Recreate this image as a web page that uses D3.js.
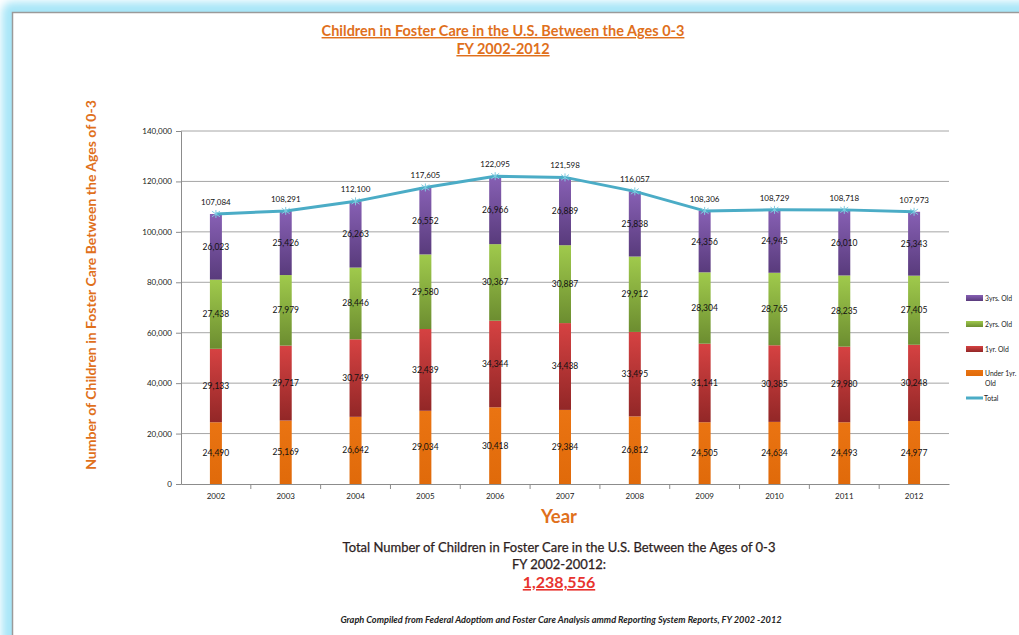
<!DOCTYPE html>
<html>
<head>
<meta charset="utf-8">
<script src="https://cdn.jsdelivr.net/npm/d3@7"></script>
<style>
  html, body { margin: 0; padding: 0; background: #fff; }
  svg { display: block; }
</style>
</head>
<body>
<svg id="chart" width="1019" height="635"></svg>
<script>
// Children in foster care aged 0-3, by age, FY 2002-2012
const years = ["2002","2003","2004","2005","2006","2007","2008","2009","2010","2011","2012"];
const under1 = [24490, 25169, 26642, 29034, 30418, 29384, 26812, 24505, 24634, 24493, 24977];
const age1   = [29133, 29717, 30749, 32439, 34344, 34438, 33495, 31141, 30385, 29980, 30248];
const age2   = [27438, 27979, 28446, 29580, 30367, 30887, 29912, 28304, 28765, 28235, 27405];
const age3   = [26023, 25426, 26263, 26552, 26966, 26889, 25838, 24356, 24945, 26010, 25343];
const totals = [107084, 108291, 112100, 117605, 122095, 121598, 116057, 108306, 108729, 108718, 107973];
const yTicks = [0, 20000, 40000, 60000, 80000, 100000, 120000, 140000];
const seriesNames = ["Under 1yr. Old", "1yr. Old", "2yrs. Old", "3yrs. Old"];
const grandTotal = 1238556;

const svg = d3.select("#chart");
const W = 1019, H = 635;
const fmt = d3.format(",");

// ---- window frame with soft blue glow ----
const defs = svg.append("defs");
const glow = defs.append("filter").attr("id", "glow")
  .attr("x", "-10%").attr("y", "-10%").attr("width", "120%").attr("height", "120%");
glow.append("feGaussianBlur").attr("stdDeviation", 4);
svg.append("rect").attr("x", 2).attr("y", 2).attr("width", W + 40).attr("height", H + 40)
  .attr("rx", 10).attr("fill", "#a8e6f8").attr("filter", "url(#glow)");
svg.append("rect").attr("x", 12.5).attr("y", 12.5).attr("width", W + 20).attr("height", H + 20)
  .attr("fill", "#fff").attr("stroke", "#9a9a9a").attr("stroke-width", 1.5);

// ---- gradients for the stacked segments ----
const palette = [
  { id: "gU1", top: "#ea7412", bot: "#e06a0a" },
  { id: "gA1", top: "#d64242", bot: "#922727" },
  { id: "gA2", top: "#a0ca4c", bot: "#6c8d30" },
  { id: "gA3", top: "#8760b4", bot: "#593b7c" }
];
palette.forEach(p => {
  const g = defs.append("linearGradient").attr("id", p.id)
    .attr("x1", 0).attr("y1", 0).attr("x2", 0).attr("y2", 1);
  g.append("stop").attr("offset", "0%").attr("stop-color", p.top);
  g.append("stop").attr("offset", "100%").attr("stop-color", p.bot);
});

// ---- scales ----
const plot = { left: 181, right: 949, top: 131, bottom: 484 };
const x = d3.scaleBand().domain(years).range([plot.left, plot.right]);
const y = d3.scaleLinear().domain([0, 140000]).range([plot.bottom, plot.top]);

const font = "Lato, 'Open Sans', sans-serif";

// ---- gridlines ----
svg.append("g").selectAll("line").data(yTicks.slice(1)).join("line")
  .attr("x1", plot.left).attr("x2", plot.right)
  .attr("y1", d => y(d)).attr("y2", d => y(d))
  .attr("stroke", "#a6a6a6").attr("stroke-width", 1);

// ---- axes ----
const yAxis = svg.append("g").attr("transform", `translate(${plot.left},0)`)
  .call(d3.axisLeft(y).tickValues(yTicks).tickFormat(fmt).tickSize(5).tickPadding(4));
const xAxis = svg.append("g").attr("transform", `translate(0,${plot.bottom})`)
  .call(d3.axisBottom(x).tickSize(0).tickPadding(9));
[yAxis, xAxis].forEach(a => {
  a.select(".domain").attr("stroke", "#8c8c8c");
  a.selectAll(".tick line").attr("stroke", "#8c8c8c");
  a.selectAll("text").attr("font-family", font).attr("font-size", 8).attr("fill", "#222");
});
// x tick marks between categories
svg.append("g").selectAll("line").data(years.slice(1)).join("line")
  .attr("x1", d => x(d)).attr("x2", d => x(d))
  .attr("y1", plot.bottom).attr("y2", plot.bottom + 5)
  .attr("stroke", "#8c8c8c");

// ---- stacked bars ----
const rows = years.map((yr, i) => ({ year: yr, u1: under1[i], a1: age1[i], a2: age2[i], a3: age3[i] }));
const stack = d3.stack().keys(["u1", "a1", "a2", "a3"])(rows);
const barW = 12;

const layers = svg.append("g").selectAll("g").data(stack).join("g")
  .attr("fill", (d, i) => `url(#${palette[i].id})`);
layers.selectAll("rect").data(d => d).join("rect")
  .attr("x", d => x(d.data.year) + x.bandwidth() / 2 - barW / 2)
  .attr("width", barW)
  .attr("y", d => y(d[1]))
  .attr("height", d => y(d[0]) - y(d[1]));

// segment labels
const segLabels = svg.append("g").attr("font-family", font).attr("font-size", 8.5)
  .attr("fill", "#111").attr("text-anchor", "middle");
stack.forEach(layer => {
  segLabels.selectAll(null).data(layer).join("text")
    .attr("x", d => x(d.data.year) + x.bandwidth() / 2)
    .attr("y", d => y((d[0] + d[1]) / 2) + 3)
    .text(d => fmt(d[1] - d[0]));
});

// ---- total line ----
const cx = (d, i) => x(years[i]) + x.bandwidth() / 2;
svg.append("path").datum(totals)
  .attr("fill", "none").attr("stroke", "#4bacc6").attr("stroke-width", 3)
  .attr("stroke-linejoin", "round")
  .attr("d", d3.line().x(cx).y(d => y(d)));

// star markers
const marks = svg.append("g").attr("stroke", "#7fcbe0").attr("stroke-width", 1);
totals.forEach((t, i) => {
  const px = cx(t, i), py = y(t), r = 4;
  marks.append("line").attr("x1", px - r).attr("y1", py - r * 0.7).attr("x2", px + r).attr("y2", py + r * 0.7);
  marks.append("line").attr("x1", px - r).attr("y1", py + r * 0.7).attr("x2", px + r).attr("y2", py - r * 0.7);
  marks.append("line").attr("x1", px).attr("y1", py - r).attr("x2", px).attr("y2", py + r);
});

// total labels
svg.append("g").attr("font-family", font).attr("font-size", 8).attr("fill", "#111")
  .attr("text-anchor", "middle")
  .selectAll("text").data(totals).join("text")
  .attr("x", cx).attr("y", d => y(d) - 9)
  .text(d => fmt(d));

// ---- legend ----
const legendItems = [
  { label: ["3yrs. Old"], fill: "url(#gA3)", y: 298 },
  { label: ["2yrs. Old"], fill: "url(#gA2)", y: 324 },
  { label: ["1yr. Old"], fill: "url(#gA1)", y: 349 },
  { label: ["Under 1yr.", "Old"], fill: "url(#gU1)", y: 373 }
];
const leg = svg.append("g").attr("font-family", font).attr("font-size", 6.8).attr("fill", "#222");
legendItems.forEach(it => {
  leg.append("rect").attr("x", 966).attr("y", it.y - 3).attr("width", 17).attr("height", 6).attr("fill", it.fill);
  it.label.forEach((l, j) => {
    leg.append("text").attr("x", 985).attr("y", it.y + 2.5 + j * 10).text(l);
  });
});
leg.append("line").attr("x1", 966).attr("x2", 983).attr("y1", 398).attr("y2", 398)
  .attr("stroke", "#4bacc6").attr("stroke-width", 3);
leg.append("text").attr("x", 984).attr("y", 400.5).text("Total");

// ---- titles ----
const orange = "#e0701c";
const title = svg.append("g").attr("font-family", font).attr("font-weight", "bold")
  .attr("font-size", 14.5).attr("fill", orange).attr("text-anchor", "middle")
  .attr("text-decoration", "underline");
title.append("text").attr("x", 503).attr("y", 36).text("Children in Foster Care in the U.S. Between the Ages 0-3");
title.append("text").attr("x", 503).attr("y", 54).text("FY 2002-2012");

svg.append("text").attr("transform", "translate(96,285) rotate(-90)")
  .attr("font-family", font).attr("font-weight", "bold").attr("font-size", 14)
  .attr("fill", orange).attr("text-anchor", "middle")
  .text("Number of Children in Foster Care Between the Ages of 0-3");

svg.append("text").attr("x", 559).attr("y", 523)
  .attr("font-family", font).attr("font-weight", "bold").attr("font-size", 18.5)
  .attr("fill", orange).attr("text-anchor", "middle").text("Year");

// ---- summary ----
const summary = svg.append("g").attr("font-family", font).attr("text-anchor", "middle");
summary.append("text").attr("x", 559).attr("y", 552).attr("font-size", 13).attr("fill", "#2e1e1e")
  .attr("stroke", "#2e1e1e").attr("stroke-width", 0.25)
  .text("Total Number of Children in Foster Care in the U.S. Between the Ages of 0-3");
summary.append("text").attr("x", 559).attr("y", 569).attr("font-size", 13).attr("fill", "#2e1e1e")
  .attr("stroke", "#2e1e1e").attr("stroke-width", 0.25)
  .text("FY 2002-20012:");
summary.append("text").attr("x", 559).attr("y", 588).attr("font-size", 16).attr("font-weight", "bold")
  .attr("fill", "#e8332e").attr("text-decoration", "underline").text(fmt(grandTotal));
summary.append("text").attr("x", 561).attr("y", 623).attr("font-size", 9.2).attr("font-weight", "bold")
  .attr("font-style", "italic").attr("fill", "#222")
  .text("Graph Compiled from Federal Adoptiom and Foster Care Analysis ammd Reporting System Reports, FY 2002 -2012");
</script>
</body>
</html>
